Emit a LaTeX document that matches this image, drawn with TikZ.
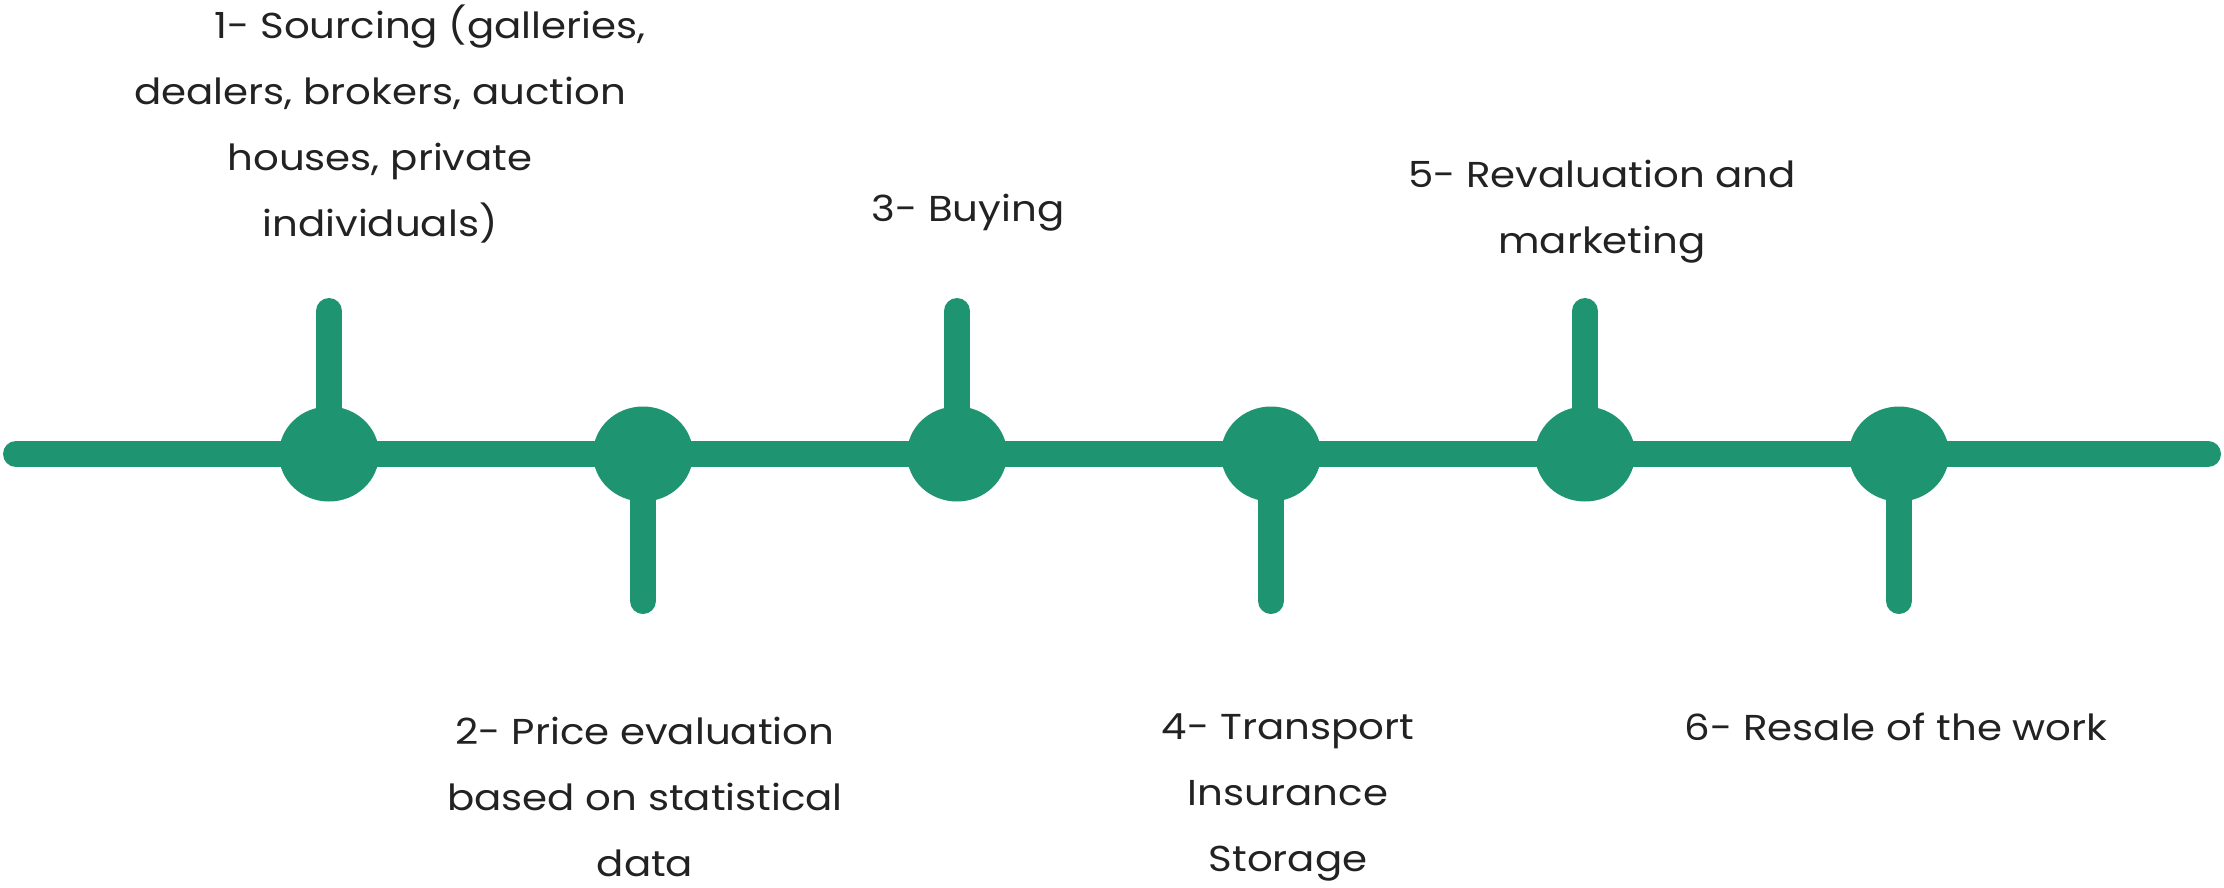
\documentclass[tikz,border=0pt]{standalone}
\usepackage{fontspec}
\setmainfont[FakeStretch=1.12]{Poppins}
\usetikzlibrary{shapes.geometric}
\definecolor{tlgreen}{HTML}{1F9471}
\definecolor{tltext}{HTML}{222222}
\begin{document}
\begin{tikzpicture}[x=1pt,y=-1pt,
  dot/.style={ellipse,fill=tlgreen,minimum width=100pt,minimum height=95pt,inner sep=0pt},
  bar/.style={draw=tlgreen,line width=26pt,line cap=round},
  lbl/.style={text=tltext,align=center,inner sep=0pt,font=\fontsize{36}{66}\selectfont}]
\useasboundingbox (0,0) rectangle (2224,887);
\coordinate (L) at (16,454);
\coordinate (R) at (2208,454);
\draw[bar] (L) -- (R);
\foreach \i/\x in {1/329,2/643,3/957,4/1271,5/1585,6/1899}{
  \node[dot] (c\i) at (\x,454) {};
}
\coordinate (s1) at (329,311);
\coordinate (s2) at (643,601);
\coordinate (s3) at (957,311);
\coordinate (s4) at (1271,601);
\coordinate (s5) at (1585,311);
\coordinate (s6) at (1899,601);
\foreach \i in {1,...,6}{ \draw[bar] (c\i.center) -- (s\i); }
\node[lbl] (t1) at (380,124) {\hspace*{100pt}1- Sourcing (galleries,\\dealers, brokers, auction\\houses, private\\individuals)};
\node[lbl] (t3) at (968,213) {3- Buying};
\node[lbl] (t5) at (1602,212) {5- Revaluation and\\marketing};
\node[lbl] (t2) at (645,797) {2- Price evaluation\\based on statistical\\data};
\node[lbl] (t4) at (1288,797) {4- Transport\\Insurance\\Storage};
\node[lbl] (t6) at (1896,727) {6- Resale of the work};
\end{tikzpicture}
\end{document}
